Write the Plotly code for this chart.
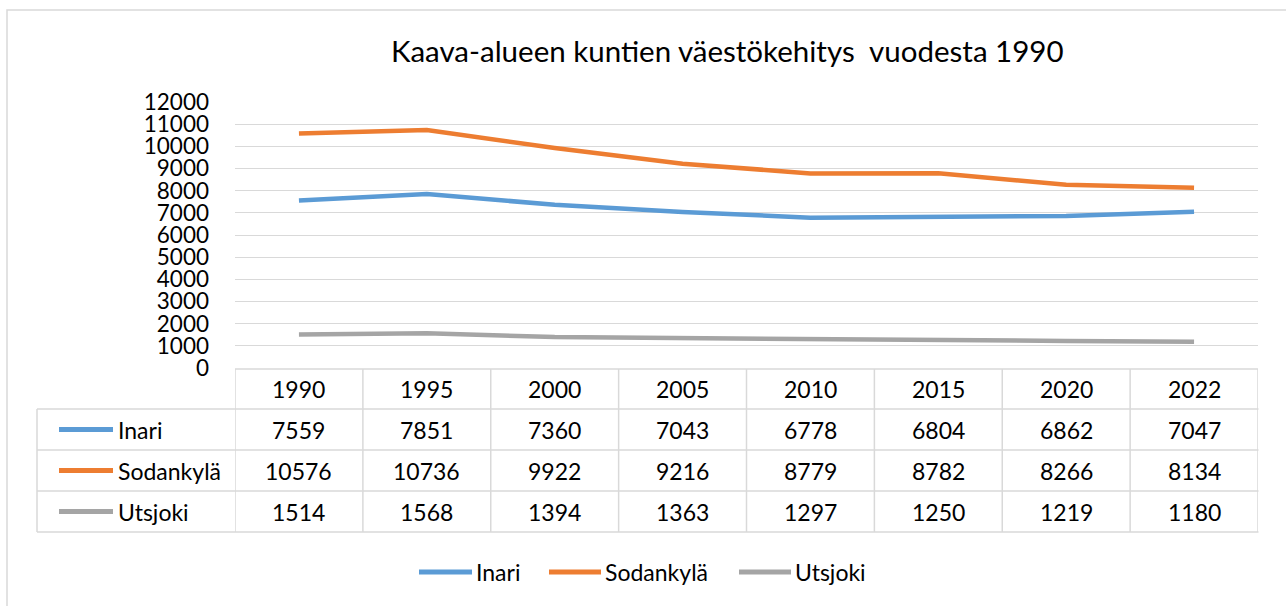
import plotly.graph_objects as go

years = ["1990", "1995", "2000", "2005", "2010", "2015", "2020", "2022"]
series_names = ["Inari", "Sodankylä", "Utsjoki"]
inari = [7559, 7851, 7360, 7043, 6778, 6804, 6862, 7047]
sodankyla = [10576, 10736, 9922, 9216, 8779, 8782, 8266, 8134]
utsjoki = [1514, 1568, 1394, 1363, 1297, 1250, 1219, 1180]
colors = ["#5B9BD5", "#ED7D31", "#A5A5A5"]
title_text = "Kaava-alueen kuntien väestökehitys  vuodesta 1990"
y_ticks = list(range(0, 12001, 1000))

W, H = 1286, 606
FONT = "Lato, Calibri, Carlito, sans-serif"
FS = 23
GRID = "#D9D9D9"

def px(x):
    return x / W

def py(y):
    return 1 - y / H

series_vals = [inari, sodankyla, utsjoki]
xi = list(range(len(years)))

fig = go.Figure()
for name, vals, c in zip(series_names, series_vals, colors):
    fig.add_trace(go.Scatter(x=xi, y=vals, mode="lines", name=name,
                             line=dict(color=c, width=4.5), showlegend=False,
                             hoverinfo="y"))

shapes = []
annotations = []

# outer chart border
shapes.append(dict(type="rect", xref="paper", yref="paper",
                   x0=px(7), x1=px(1300), y0=py(10), y1=py(640),
                   line=dict(color=GRID, width=1.5), layer="below"))

# title
annotations.append(dict(text=title_text, xref="paper", yref="paper",
                        x=px(727), y=py(50), showarrow=False,
                        font=dict(family=FONT, size=29.5, color="#000000"),
                        xanchor="center", yanchor="middle"))

# data table
row_top = [369, 409, 450, 491, 532]
n = len(years)
tline = dict(color=GRID, width=1.5)
shapes.append(dict(type="line", xref="x", yref="paper", x0=-0.5, x1=n - 0.5,
                   y0=py(row_top[0]), y1=py(row_top[0]), line=tline))
for yy in row_top[1:]:
    shapes.append(dict(type="line", xref="paper", yref="paper", x0=px(37), x1=px(1258.5),
                       y0=py(yy), y1=py(yy), line=tline))
for i in range(n + 1):
    shapes.append(dict(type="line", xref="x", yref="paper", x0=i - 0.5, x1=i - 0.5,
                       y0=py(row_top[0]), y1=py(row_top[-1]), line=tline))
shapes.append(dict(type="line", xref="paper", yref="paper", x0=px(37), x1=px(37),
                   y0=py(row_top[1]), y1=py(row_top[-1]), line=tline))

tfont = dict(family=FONT, size=FS, color="#000000")
for i, yr in enumerate(years):
    annotations.append(dict(text=yr, xref="x", yref="paper", x=i,
                            y=py((row_top[0] + row_top[1]) / 2), showarrow=False,
                            font=tfont, xanchor="center", yanchor="middle"))
for r, (name, vals, c) in enumerate(zip(series_names, series_vals, colors)):
    yc = (row_top[r + 1] + row_top[r + 2]) / 2
    shapes.append(dict(type="line", xref="paper", yref="paper", x0=px(59), x1=px(113),
                       y0=py(yc), y1=py(yc), line=dict(color=c, width=5)))
    annotations.append(dict(text=name, xref="paper", yref="paper", x=px(116), y=py(yc),
                            showarrow=False, font=tfont, xanchor="left", yanchor="middle"))
    for i, v in enumerate(vals):
        annotations.append(dict(text=str(v), xref="x", yref="paper", x=i, y=py(yc),
                                showarrow=False, font=tfont, xanchor="center",
                                yanchor="middle"))

# bottom legend
leg_pos = [(419, 472), (549, 601), (739, 791)]
for (x0, x1), name, c in zip(leg_pos, series_names, colors):
    shapes.append(dict(type="line", xref="paper", yref="paper", x0=px(x0), x1=px(x1),
                       y0=py(572), y1=py(572), line=dict(color=c, width=5)))
    annotations.append(dict(text=name, xref="paper", yref="paper", x=px(x1 + 2), y=py(572),
                            showarrow=False, font=tfont, xanchor="left", yanchor="middle"))

fig.update_layout(
    template="none",
    width=W, height=H,
    margin=dict(l=0, r=0, t=0, b=0, pad=0, autoexpand=False),
    paper_bgcolor="#FFFFFF", plot_bgcolor="#FFFFFF",
    font=dict(family=FONT, size=FS, color="#000000"),
    xaxis=dict(domain=[px(235), px(1258)], range=[-0.5, n - 0.5], showgrid=False,
               zeroline=False, showticklabels=False, ticks="", showline=False,
               automargin=False),
    yaxis=dict(domain=[py(368), py(102)], range=[0, 12000], tickvals=y_ticks,
               ticktext=[str(t) for t in y_ticks], showgrid=True, gridcolor=GRID,
               gridwidth=1.3, zeroline=False, showline=False, ticks="",
               tickfont=dict(family=FONT, size=22.5, color="#000000"),
               ticklabelstandoff=25, automargin=False),
    shapes=shapes,
    annotations=annotations,
    showlegend=False,
)

fig.write_html("out.html", config={"displayModeBar": False},
               post_script="document.body.style.margin='0';document.body.style.overflow='hidden';")
